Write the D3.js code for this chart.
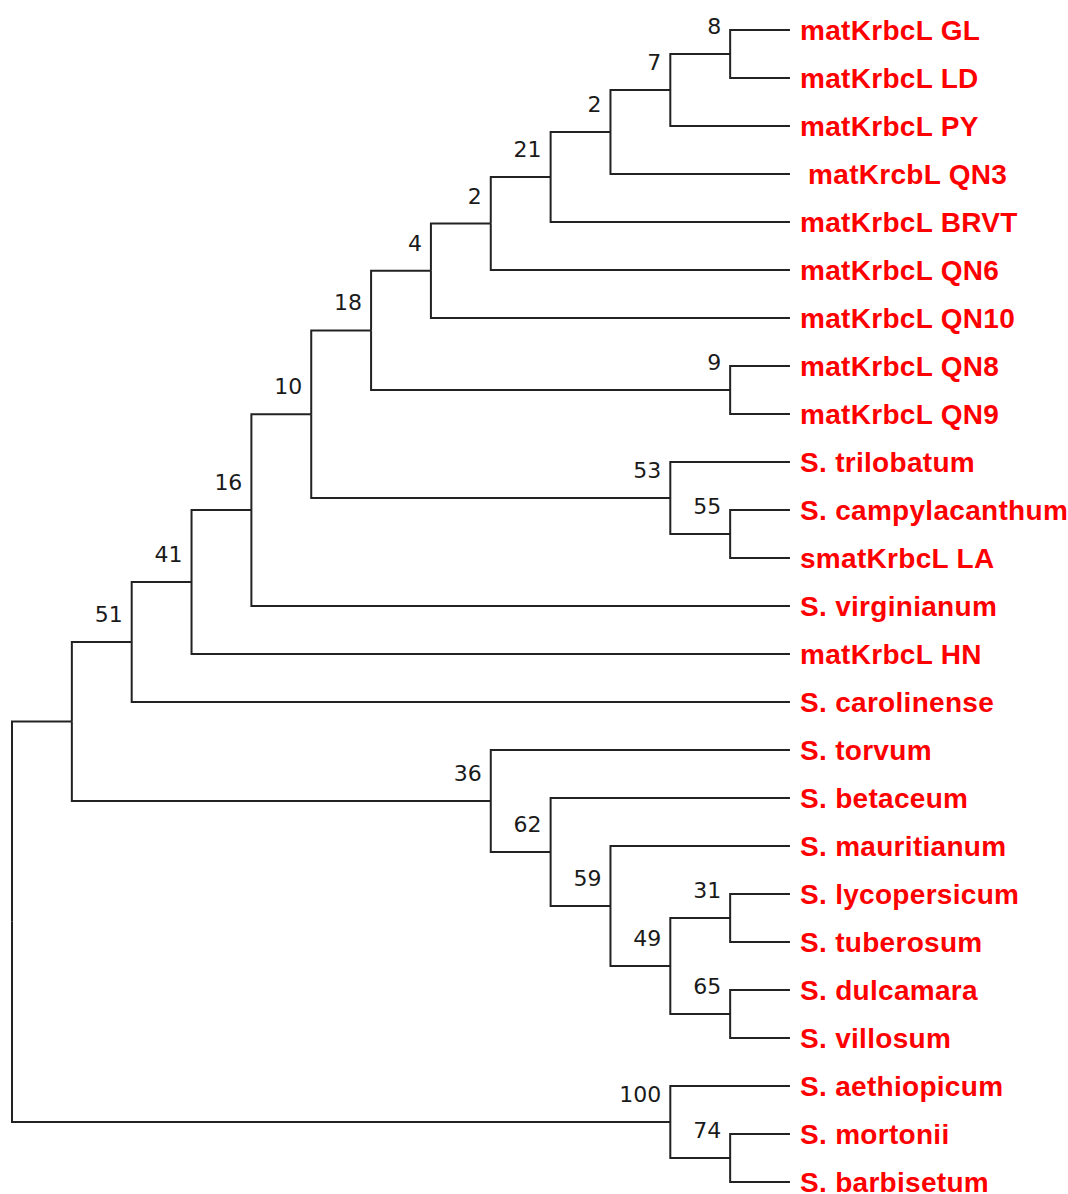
<!DOCTYPE html>
<html lang="en">
<head>
<meta charset="UTF-8">
<title>Solanum matK-rbcL tree</title>
<script src="https://cdnjs.cloudflare.com/ajax/libs/d3/7.9.0/d3.min.js"></script>
<style>
    body { margin: 0; background: white; }
    svg { display: block; }
    .branch { fill: none; stroke: #222; stroke-width: 2; }
    .support { font-family: "DejaVu Sans", Verdana, sans-serif; font-size: 22px; fill: #1a1a1a; text-anchor: end; }
    .taxon { font-family: "Liberation Sans", Arial, sans-serif; font-weight: bold; font-size: 28px; letter-spacing: 0.3px; fill: #ff0000; white-space: pre; }
</style>
</head>
<body>
<svg id="tree" width="1068" height="1194"></svg>
<script>
// internal nodes: id, parent, bootstrap support
const cladeIds     = ['root', 'c71', 'c51', 'c41', 'c16', 'c10', 'c18', 'c4', 'c2b', 'c21', 'c2a', 'c7', 'c8', 'c9', 'c53', 'c55', 'c36', 'c62', 'c59', 'c49', 'c31', 'c65', 'c100', 'c74'];
const cladeParents = [null, 'root', 'c71', 'c51', 'c41', 'c16', 'c10', 'c18', 'c4', 'c2b', 'c21', 'c2a', 'c7', 'c18', 'c10', 'c53', 'c71', 'c36', 'c62', 'c59', 'c49', 'c49', 'root', 'c100'];
const cladeSupport = ['', '', '51', '41', '16', '10', '18', '4', '2', '21', '2', '7', '8', '9', '53', '55', '36', '62', '59', '49', '31', '65', '100', '74'];

// leaves, top to bottom, and the clade each hangs from
const taxa = ['matKrbcL GL', 'matKrbcL LD', 'matKrbcL PY', ' matKrcbL QN3', 'matKrbcL BRVT', 'matKrbcL QN6',
    'matKrbcL QN10', 'matKrbcL QN8', 'matKrbcL QN9', 'S. trilobatum', 'S. campylacanthum', 'smatKrbcL LA',
    'S. virginianum', 'matKrbcL HN', 'S. carolinense', 'S. torvum', 'S. betaceum', 'S. mauritianum',
    'S. lycopersicum', 'S. tuberosum', 'S. dulcamara', 'S. villosum', 'S. aethiopicum', 'S. mortonii', 'S. barbisetum'];
const taxonParents = ['c8', 'c8', 'c7', 'c2a', 'c21', 'c2b', 'c4', 'c9', 'c9', 'c53', 'c55', 'c55',
    'c16', 'c41', 'c51', 'c36', 'c62', 'c59', 'c31', 'c31', 'c65', 'c65', 'c100', 'c74', 'c74'];

const rows = cladeIds.map((id, i) => ({id: id, parent: cladeParents[i], support: cladeSupport[i], order: null}))
    .concat(taxa.map((name, i) => ({id: 'leaf' + i, parent: taxonParents[i], name: name, order: i})));

const root = d3.stratify().id(d => d.id).parentId(d => d.parent)(rows);

// order children by their first leaf
root.eachAfter(n => { n.first = n.children ? d3.min(n.children, c => c.first) : n.data.order; });
root.sort((a, b) => a.first - b.first);

const x = d3.scaleLinear().domain([root.height, 0]).range([12, 790]);
const y = d3.scaleLinear().domain([0, taxa.length - 1]).range([30, 1182]);

root.eachAfter(n => {
    n.px = x(n.height);
    n.py = n.children ? d3.mean([n.children[0].py, n.children[n.children.length - 1].py]) : y(n.data.order);
});

const svg = d3.select('#tree');

svg.append('g').selectAll('path')
    .data(root.links())
    .join('path')
    .attr('class', 'branch')
    .attr('d', l => `M${l.source.px},${l.source.py}V${l.target.py}H${l.target.px}`);

svg.append('g').selectAll('text')
    .data(root.descendants().filter(n => n.children && n.data.support))
    .join('text')
    .attr('class', 'support')
    .attr('x', n => n.px - 9)
    .attr('y', n => n.py - 20)
    .text(n => n.data.support);

svg.append('g').selectAll('text')
    .data(root.leaves())
    .join('text')
    .attr('class', 'taxon')
    .attr('xml:space', 'preserve')
    .attr('x', n => n.px + 10)
    .attr('y', n => n.py)
    .attr('dy', '0.36em')
    .text(n => n.data.name);
</script>
</body>
</html>
